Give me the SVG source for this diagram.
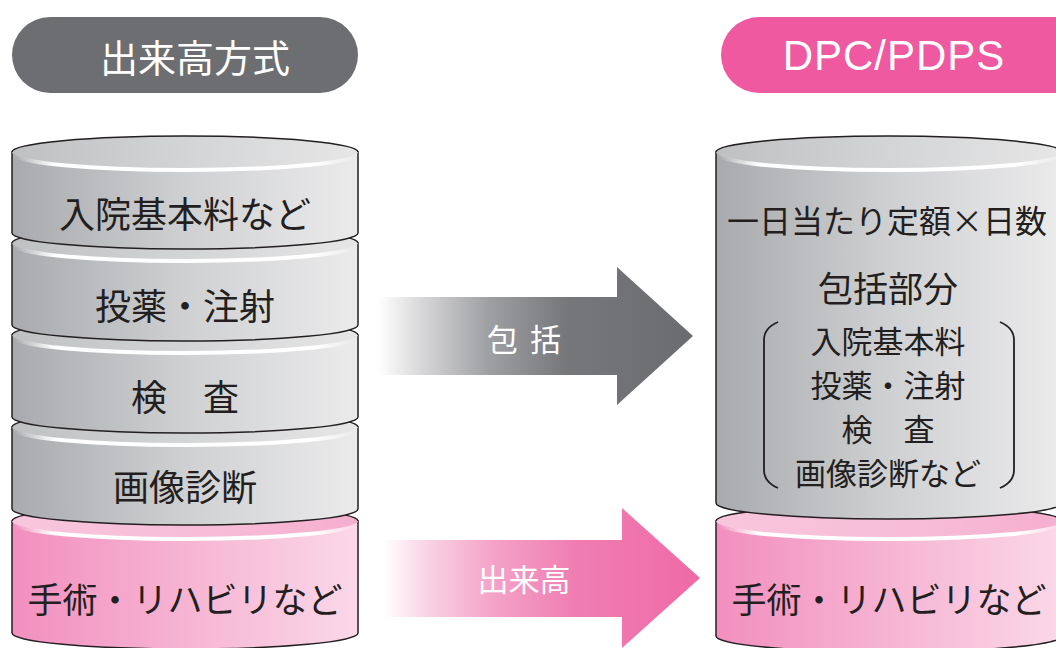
<svg xmlns="http://www.w3.org/2000/svg" width="1056" height="648" viewBox="0 0 1056 648">
<defs>
<linearGradient id="gSide" x1="0" y1="0" x2="1" y2="0">
<stop offset="0" stop-color="#a9aaad"/><stop offset="0.5" stop-color="#cfd0d2"/><stop offset="1" stop-color="#ebebec"/>
</linearGradient>
<linearGradient id="gTop" x1="0" y1="0" x2="1" y2="0">
<stop offset="0" stop-color="#bfc0c2"/><stop offset="0.5" stop-color="#d3d4d5"/><stop offset="1" stop-color="#e6e6e7"/>
</linearGradient>
<linearGradient id="pSide" x1="0" y1="0" x2="1" y2="0">
<stop offset="0" stop-color="#f28fbe"/><stop offset="0.5" stop-color="#f6b4d3"/><stop offset="1" stop-color="#fbd8e8"/>
</linearGradient>
<linearGradient id="pTop" x1="0" y1="0" x2="1" y2="0">
<stop offset="0" stop-color="#f8c6dc"/><stop offset="0.6" stop-color="#f7bcd7"/><stop offset="1" stop-color="#f5aecf"/>
</linearGradient>
<linearGradient id="hl" x1="0" y1="0" x2="1" y2="0">
<stop offset="0" stop-color="#fff" stop-opacity="0"/><stop offset="0.12" stop-color="#fff" stop-opacity="1"/><stop offset="0.88" stop-color="#fff" stop-opacity="1"/><stop offset="1" stop-color="#fff" stop-opacity="0"/>
</linearGradient>
<linearGradient id="aGray" gradientUnits="userSpaceOnUse" x1="378" y1="0" x2="693" y2="0">
<stop offset="0" stop-color="#ffffff"/><stop offset="0.15" stop-color="#d4d4d6"/><stop offset="0.35" stop-color="#9fa0a3"/><stop offset="0.6" stop-color="#76777b"/><stop offset="1" stop-color="#6b6c70"/>
</linearGradient>
<linearGradient id="aPink" gradientUnits="userSpaceOnUse" x1="383" y1="0" x2="700" y2="0">
<stop offset="0" stop-color="#ffffff"/><stop offset="0.15" stop-color="#f9d0e2"/><stop offset="0.35" stop-color="#f4a2c8"/><stop offset="0.6" stop-color="#f07eb2"/><stop offset="1" stop-color="#ef6aa6"/>
</linearGradient>
</defs>
<style>
.side{stroke:#231f20;stroke-width:1.5;stroke-linejoin:round}
.gs{fill:url(#gSide)}
.gt{fill:url(#gTop)}
.ps{fill:url(#pSide)}
.pt{fill:url(#pTop)}
.rim{fill:none;stroke:#231f20;stroke-width:1.5}
.hl{fill:none;stroke:url(#hl);stroke-width:4}
.t{font-family:"Noto Sans CJK JP","Noto Sans CJK SC",sans-serif;fill:#231f20;text-anchor:middle;dominant-baseline:central}
.w{font-family:"Noto Sans CJK JP","Noto Sans CJK SC",sans-serif;fill:#ffffff;text-anchor:middle;dominant-baseline:central}
.br{fill:none;stroke:#231f20;stroke-width:1.8;stroke-linejoin:round}
</style>
<g id="header-left">
<rect x="12" y="17" width="346" height="76" rx="38" fill="#6d6e72"/>
<text class="w" x="195" y="55" font-size="38">出来高方式</text>
</g>
<g id="header-right">
<rect x="721" y="17" width="380" height="76" rx="38" fill="#ef59a0"/>
<text x="894" y="55" font-family="'Liberation Sans',Arial,sans-serif" font-size="42" letter-spacing="1" fill="#fff" text-anchor="middle" dominant-baseline="central">DPC/PDPS</text>
</g>
<g id="connectors">
<g id="arrow-hokatsu">
<path d="M378,297 H617 V267 L693,336 L617,405 V375 H378 Z" fill="url(#aGray)"/>
<text class="w" x="524" y="337" font-size="31" word-spacing="5">包 括</text>
</g>
<g id="arrow-dekidaka">
<path d="M383,540 H622 V508 L700,578 L622,648 V617 H383 Z" fill="url(#aPink)"/>
<text class="w" x="524" y="577" font-size="31">出来高</text>
</g>
</g>
<g id="left-pink">
<path class="side ps" d="M12,521 V633 A173 16 0 0 0 358,633 V521 Z"/>
<ellipse class="pt" cx="185" cy="521" rx="173" ry="16"/>
<path class="rim" d="M12,521 A173 16 0 0 1 358,521"/>
<path class="hl" d="M14,523 A171 16 0 0 0 356,523"/>
<text class="t" x="185" y="597" font-size="35">手術・リハビリなど</text>
</g>
<g id="left-gazou">
<path class="side gs" d="M12,427 V509 A173 16 0 0 0 358,509 V427 Z"/>
<ellipse class="gt" cx="185" cy="427" rx="173" ry="16"/>
<path class="rim" d="M12,427 A173 16 0 0 1 358,427"/>
<path class="hl" d="M14,429 A171 16 0 0 0 356,429"/>
<text class="t" x="185" y="485" font-size="36">画像診断</text>
</g>
<g id="left-kensa">
<path class="side gs" d="M12,335 V417 A173 16 0 0 0 358,417 V335 Z"/>
<ellipse class="gt" cx="185" cy="335" rx="173" ry="16"/>
<path class="rim" d="M12,335 A173 16 0 0 1 358,335"/>
<path class="hl" d="M14,337 A171 16 0 0 0 356,337"/>
<text class="t" x="185" y="395" font-size="36">検　査</text>
</g>
<g id="left-touyaku">
<path class="side gs" d="M12,243 V325 A173 16 0 0 0 358,325 V243 Z"/>
<ellipse class="gt" cx="185" cy="243" rx="173" ry="16"/>
<path class="rim" d="M12,243 A173 16 0 0 1 358,243"/>
<path class="hl" d="M14,245 A171 16 0 0 0 356,245"/>
<text class="t" x="185" y="304" font-size="36">投薬・注射</text>
</g>
<g id="left-nyuin">
<path class="side gs" d="M12,152 V233 A173 16 0 0 0 358,233 V152 Z"/>
<ellipse class="gt" cx="185" cy="152" rx="173" ry="16"/>
<path class="rim" d="M12,152 A173 16 0 0 1 358,152"/>
<path class="hl" d="M14,154 A171 16 0 0 0 356,154"/>
<text class="t" x="185" y="212" font-size="36">入院基本料など</text>
</g>
<g id="right-pink">
<path class="side ps" d="M716,521 V636 A173 16 0 0 0 1062,636 V521 Z"/>
<ellipse class="pt" cx="889" cy="521" rx="173" ry="16"/>
<path class="rim" d="M716,521 A173 16 0 0 1 1062,521"/>
<path class="hl" d="M718,523 A171 16 0 0 0 1060,523"/>
<text class="t" x="889" y="597" font-size="35">手術・リハビリなど</text>
</g>
<g id="right-hokatsu">
<path class="side gs" d="M716,152 V503 A173 16 0 0 0 1062,503 V152 Z"/>
<ellipse class="gt" cx="889" cy="152" rx="173" ry="16"/>
<path class="rim" d="M716,152 A173 16 0 0 1 1062,152"/>
<path class="hl" d="M718,154 A171 16 0 0 0 1060,154"/>
<text class="t" x="887" y="219" font-size="32">一日当たり定額×日数</text>
<text class="t" x="888" y="286" font-size="35">包括部分</text>
<path class="br" d="M778,322 Q764,328 764,340 V470 Q764,482 778,488"/>
<path class="br" d="M1000,322 Q1014,328 1014,340 V470 Q1014,482 1000,488"/>
<text class="t" x="888" y="339" font-size="31">入院基本料</text>
<text class="t" x="888" y="383" font-size="31">投薬・注射</text>
<text class="t" x="888" y="427" font-size="31">検　査</text>
<text class="t" x="888" y="471" font-size="31">画像診断など</text>
</g>
</svg>
